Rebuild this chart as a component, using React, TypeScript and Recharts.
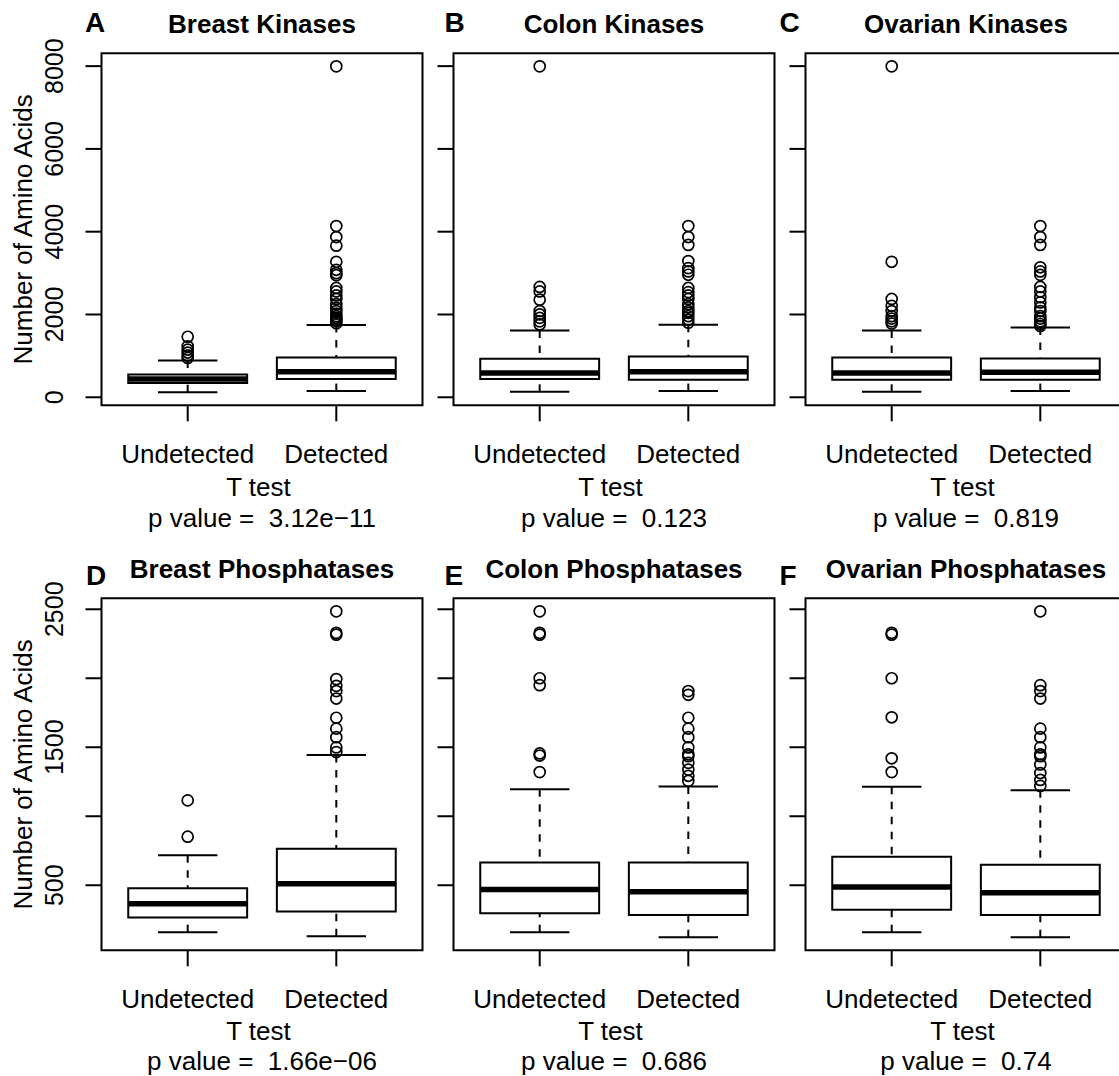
import React from 'react';
import {
  ComposedChart,
  XAxis,
  YAxis,
  Scatter,
  ReferenceArea,
  ReferenceLine,
} from 'recharts';

const groups = ['Undetected', 'Detected'];

// per group: [lower whisker, Q1, median, Q3, upper whisker]
const breastKinasesBox = [
  [121, 345, 440, 552, 887],
  [150, 440, 615, 962, 1744],
];
const breastKinasesOut = [
  [950, 1010, 1080, 1150, 1230, 1462],
  [1790, 1840, 1876, 1920, 1959, 2020, 2083, 2160, 2250, 2375, 2460, 2557, 2641, 2950, 3000, 3080, 3272, 3663, 3870, 4137, 7995],
];

const colonKinasesBox = [
  [132, 439, 589, 930, 1611],
  [150, 423, 614, 987, 1752],
];
const colonKinasesOut = [
  [1760, 1834, 1918, 2001, 2083, 2358, 2557, 2666, 7995],
  [1800, 1876, 1959, 2040, 2083, 2170, 2250, 2375, 2460, 2540, 2641, 2960, 3040, 3120, 3290, 3680, 3870, 4137],
];

const ovarianKinasesBox = [
  [132, 423, 589, 962, 1611],
  [150, 423, 606, 937, 1685],
];
const ovarianKinasesOut = [
  [1780, 1834, 1900, 1959, 2083, 2209, 2375, 3272, 7995],
  [1720, 1770, 1834, 1900, 1959, 2083, 2170, 2292, 2416, 2557, 2666, 2957, 3040, 3140, 3680, 3870, 4137],
];

const breastPhosBox = [
  [160, 267, 366, 478, 718],
  [130, 310, 510, 765, 1444],
];
const breastPhosOut = [
  [852, 1115],
  [1465, 1499, 1573, 1635, 1714, 1853, 1907, 1945, 1994, 2316, 2329, 2485],
];

const colonPhosBox = [
  [160, 297, 470, 664, 1196],
  [123, 284, 453, 664, 1216],
];
const colonPhosOut = [
  [1320, 1440, 1455, 1950, 2000, 2316, 2329, 2485],
  [1256, 1293, 1338, 1387, 1435, 1449, 1499, 1573, 1635, 1714, 1880, 1907],
];

const ovarianPhosBox = [
  [160, 322, 488, 706, 1214],
  [123, 284, 445, 649, 1189],
];
const ovarianPhosOut = [
  [1320, 1420, 1717, 2000, 2316, 2329],
  [1220, 1263, 1313, 1375, 1435, 1449, 1499, 1573, 1635, 1853, 1907, 1950, 2485],
];

const pValues = ['3.12e\u221211', '0.123', '0.819', '1.66e\u221206', '0.686', '0.74'];

const kinaseTicks = [0, 2000, 4000, 6000, 8000];
const kinaseTickLabels = [0, 2000, 4000, 6000, 8000];
const phosTicks = [500, 1000, 1500, 2000, 2500];
const phosTickLabels = [500, 1500, 2500];

const FONT = '"Liberation Sans", Arial, Helvetica, sans-serif';

// R-style range: data extent padded by 4% on each side
function rowDomain(boxes: number[][][], outs: number[][][]): [number, number] {
  const vals = [...boxes.flat(2), ...outs.flat(2)];
  const lo = Math.min(...vals);
  const hi = Math.max(...vals);
  const pad = (hi - lo) * 0.04;
  return [lo - pad, hi + pad];
}

const kinaseDomain = rowDomain(
  [breastKinasesBox, colonKinasesBox, ovarianKinasesBox],
  [breastKinasesOut, colonKinasesOut, ovarianKinasesOut],
);
const phosDomain = rowDomain(
  [breastPhosBox, colonPhosBox, ovarianPhosBox],
  [breastPhosOut, colonPhosOut, ovarianPhosOut],
);

const X_DOMAIN: [number, number] = [0.42, 2.58];

// panel geometry (local coords)
const PLOT_LEFT = 101.5;
const PLOT_TOP = 53.3;
const PLOT_W = 321;
const PLOT_BOTTOM = 405.3;
const CHART_W = PLOT_LEFT + PLOT_W + 10;
const CHART_H = 545;
const CENTER_X = PLOT_LEFT + PLOT_W / 2;

const COL_X = [0, 352.2, 704.2];
const ROW_Y = [0, 544.7];
// baselines of the "T test" / p value lines, per row
const TEST_Y = [495.5, 494.5];
const P_Y = [527, 524.5];

const panels = [
  { letter: 'A', title: 'Breast Kinases', box: breastKinasesBox, out: breastKinasesOut, p: pValues[0], row: 0, col: 0, letterX: 85 },
  { letter: 'B', title: 'Colon Kinases', box: colonKinasesBox, out: colonKinasesOut, p: pValues[1], row: 0, col: 1, letterX: 92.5 },
  { letter: 'C', title: 'Ovarian Kinases', box: ovarianKinasesBox, out: ovarianKinasesOut, p: pValues[2], row: 0, col: 2, letterX: 75.5 },
  { letter: 'D', title: 'Breast Phosphatases', box: breastPhosBox, out: breastPhosOut, p: pValues[3], row: 1, col: 0, letterX: 86 },
  { letter: 'E', title: 'Colon Phosphatases', box: colonPhosBox, out: colonPhosOut, p: pValues[4], row: 1, col: 1, letterX: 92.5 },
  { letter: 'F', title: 'Ovarian Phosphatases', box: ovarianPhosBox, out: ovarianPhosOut, p: pValues[5], row: 1, col: 2, letterX: 75.5 },
];

const renderOutlier = (props: any) => (
  <circle cx={props.cx} cy={props.cy} r={5.5} fill="none" stroke="#000" strokeWidth={1.7} />
);

function XTick(props: any) {
  const { x, y, payload } = props;
  return (
    <text x={x} y={y} textAnchor="middle" fontSize={26} fontFamily={FONT} fill="#000">
      {groups[payload.value - 1]}
    </text>
  );
}

function makeYTick(labels: number[]) {
  return (props: any) => {
    const { x, y, payload } = props;
    if (!labels.includes(payload.value)) return <g />;
    return (
      <text
        x={x}
        y={y}
        transform={`rotate(-90 ${x} ${y})`}
        textAnchor="middle"
        fontSize={25}
        fontFamily={FONT}
        fill="#000"
      >
        {payload.value}
      </text>
    );
  };
}

function BoxPanel({ panel }: { panel: (typeof panels)[number] }) {
  const kin = panel.row === 0;
  const domain = kin ? kinaseDomain : phosDomain;
  const ticks = kin ? kinaseTicks : phosTicks;
  const labels = panel.col === 0 ? (kin ? kinaseTickLabels : phosTickLabels) : [];
  const points = panel.out.flatMap((vals, i) => vals.map((v) => ({ x: i + 1, y: v })));
  const left = COL_X[panel.col];
  const top = ROW_Y[panel.row];

  return (
    <div style={{ position: 'absolute', left, top, width: CHART_W, height: CHART_H }}>
      <ComposedChart
        width={CHART_W}
        height={CHART_H}
        margin={{ top: PLOT_TOP, right: 10, bottom: 0, left: 0 }}
      >
        <XAxis
          type="number"
          dataKey="x"
          domain={X_DOMAIN}
          ticks={[1, 2]}
          allowDataOverflow
          interval={0}
          axisLine={false}
          stroke="#000"
          tickSize={16}
          tickMargin={42}
          tickLine={{ stroke: '#000', strokeWidth: 2 }}
          height={CHART_H - PLOT_BOTTOM}
          tick={<XTick />}
        />
        <YAxis
          type="number"
          dataKey="y"
          domain={domain}
          ticks={ticks}
          allowDataOverflow
          interval={0}
          axisLine={false}
          stroke="#000"
          width={PLOT_LEFT}
          tickSize={16}
          tickMargin={22}
          tickLine={{ stroke: '#000', strokeWidth: 2 }}
          tick={makeYTick(labels)}
        />
        {panel.box.map(([lo, q1, med, q3, hi], i) => {
          const c = i + 1;
          return (
            <React.Fragment key={c}>
              <ReferenceLine
                segment={[{ x: c, y: hi }, { x: c, y: q3 }]}
                stroke="#000"
                strokeWidth={2}
                strokeDasharray="7.5 7.5"
              />
              <ReferenceLine
                segment={[{ x: c, y: lo }, { x: c, y: q1 }]}
                stroke="#000"
                strokeWidth={2}
                strokeDasharray="7.5 7.5"
              />
              <ReferenceLine
                segment={[{ x: c - 0.2, y: hi }, { x: c + 0.2, y: hi }]}
                stroke="#000"
                strokeWidth={2}
              />
              <ReferenceLine
                segment={[{ x: c - 0.2, y: lo }, { x: c + 0.2, y: lo }]}
                stroke="#000"
                strokeWidth={2}
              />
              <ReferenceArea
                x1={c - 0.4}
                x2={c + 0.4}
                y1={q1}
                y2={q3}
                fill="none"
                fillOpacity={0}
                stroke="#000"
                strokeWidth={2}
              />
              <ReferenceLine
                segment={[{ x: c - 0.4, y: med }, { x: c + 0.4, y: med }]}
                stroke="#000"
                strokeWidth={5.5}
              />
            </React.Fragment>
          );
        })}
        <Scatter data={points} dataKey="y" shape={renderOutlier} isAnimationActive={false} />
        <ReferenceArea
          x1={X_DOMAIN[0]}
          x2={X_DOMAIN[1]}
          y1={domain[0]}
          y2={domain[1]}
          fill="none"
          fillOpacity={0}
          stroke="#000"
          strokeWidth={2}
        />
      </ComposedChart>
      <svg
        width={CHART_W}
        height={CHART_H}
        style={{ position: 'absolute', left: 0, top: 0, pointerEvents: 'none', overflow: 'visible' }}
        fontFamily={FONT}
      >
        <text x={panel.letterX} y={kin ? 32 : 40} fontSize={28} fontWeight="bold">
          {panel.letter}
        </text>
        <text x={CENTER_X} y={32.5} fontSize={26} fontWeight="bold" textAnchor="middle">
          {panel.title}
        </text>
        {panel.col === 0 && (
          <text
            x={32}
            y={(PLOT_TOP + PLOT_BOTTOM) / 2}
            transform={`rotate(-90 32 ${(PLOT_TOP + PLOT_BOTTOM) / 2})`}
            fontSize={26}
            textAnchor="middle"
          >
            Number of Amino Acids
          </text>
        )}
        <text x={CENTER_X - 3.5} y={TEST_Y[panel.row]} fontSize={26} textAnchor="middle">
          T test
        </text>
        <text x={CENTER_X} y={P_Y[panel.row]} fontSize={26} textAnchor="middle" style={{ whiteSpace: 'pre' }}>
          {`p value =  ${panel.p}`}
        </text>
      </svg>
    </div>
  );
}

export default function App() {
  return (
    <div
      style={{
        position: 'absolute',
        left: 0,
        top: 0,
        width: 1119,
        height: 1076,
        overflow: 'hidden',
        background: '#fff',
        fontFamily: FONT,
      }}
    >
      {panels.map((p) => (
        <BoxPanel key={p.letter} panel={p} />
      ))}
    </div>
  );
}
